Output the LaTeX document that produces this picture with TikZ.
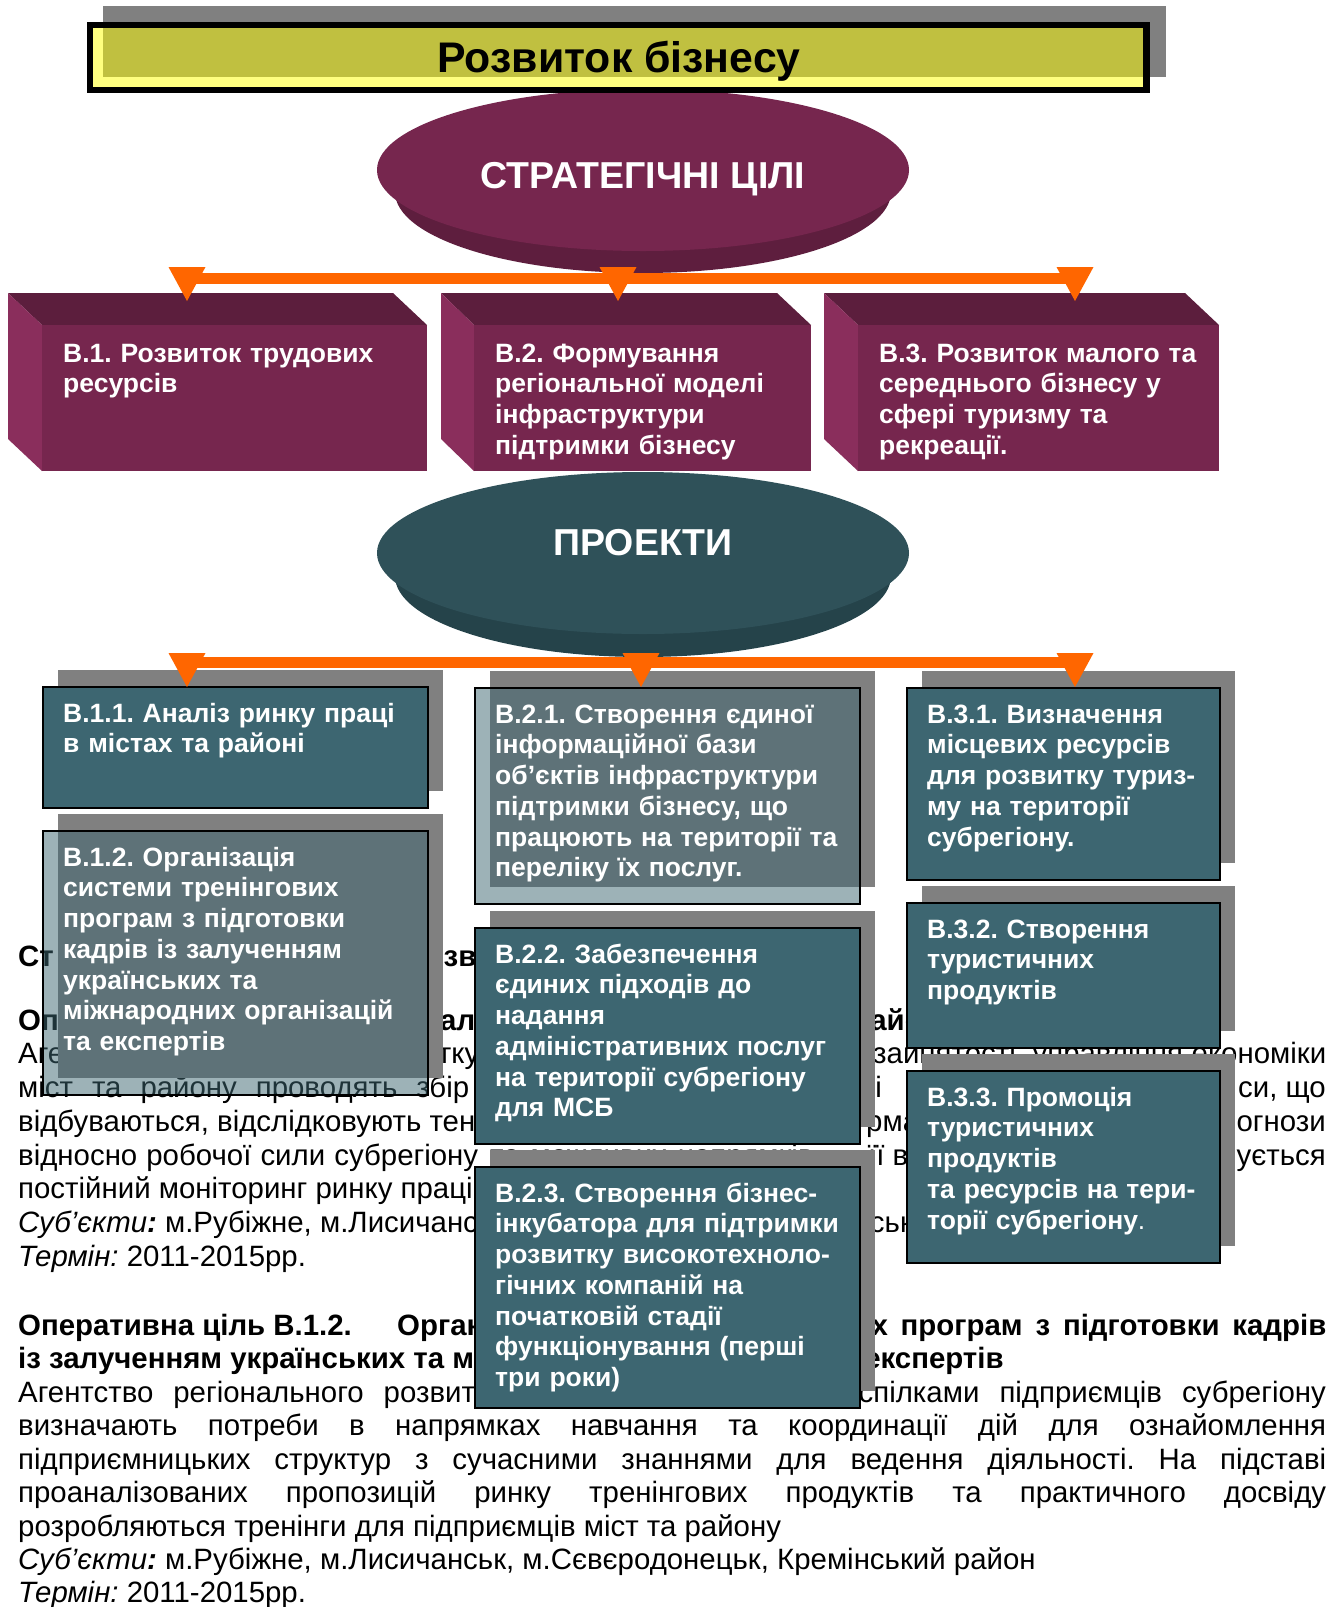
\documentclass[tikz,border=0pt]{standalone}
\usepackage{fontspec}
\setmainfont{Liberation Sans}
\usetikzlibrary{calc,shapes.geometric}
\frenchspacing
\definecolor{cOlive}{RGB}{192,192,64}
\definecolor{cYel}{RGB}{255,255,128}
\definecolor{cGray}{RGB}{128,128,128}
\definecolor{cPlum}{RGB}{118,38,78}
\definecolor{cPlumTop}{RGB}{92,30,61}
\definecolor{cPlumSide}{RGB}{138,46,92}
\definecolor{cPlumBand}{RGB}{94,30,62}
\definecolor{cSlate}{RGB}{47,81,89}
\definecolor{cSlateBand}{RGB}{37,67,74}
\definecolor{cTeal}{RGB}{61,102,113}
\definecolor{cOrange}{RGB}{255,102,0}
\newcommand\subjlabel{\textit{Суб’єкти}\textbf{\textit{:}} }
\newcommand\downtri[1]{\fill[cOrange] ($(#1)+(-18.5,-34)$) -- ($(#1)+(18.5,-34)$) -- (#1) -- cycle;}
\begin{document}
\begin{tikzpicture}[x=1pt,y=-1pt,
  bodyt/.style={anchor=base west,inner sep=0pt,font=\fontsize{29.4}{33.8}\selectfont},
  headt/.style={bodyt,font=\fontsize{29.4}{33.8}\selectfont\bfseries},
  btext/.style={anchor=base west,inner sep=0pt,text=white,align=left,text width=400pt,font=\fontsize{26.5}{30.75}\selectfont\bfseries},
  etext/.style={anchor=base,inner sep=0pt,text=white,font=\fontsize{37.5}{42}\selectfont\bfseries},
  pbox/.style={fill=cTeal,draw=black,line width=2pt,inner sep=0pt,anchor=north west},
  tbox/.style={pbox,fill opacity=0.5,draw opacity=1},
  bar/.style={cOrange,line width=11pt},
  front/.style={fill=cPlum,inner sep=0pt,anchor=north west,minimum height=146pt}]
\useasboundingbox (0,0) rectangle (1342,1607);
\fill[white] (0,0) rectangle (1342,1607);

% ---------------- background document text ----------------
\node[headt] (h0a) at (18,966) {Ст};
\node[headt] (h0b) at (407,966) {Розвиток трудових ресурсів};
\node[headt] (h1a) at (18,1030) {Оперативна ціль В.1.1.};
\node[headt] (h1b) at (401,1030) {Аналіз ринку праці в містах та районі};
\node[bodyt] (t1a) at (18,1063) {Агентство регіонального розвитку};
\node[bodyt] (t1b) at (873,1063) {\makebox[453pt][s]{зайнятості, управління економіки}};
\node[bodyt] (t2a) at (18,1097) {\makebox[451pt][s]{міст та району проводять збір}};
\node[bodyt] (t2b) at (858,1097) {ді};
\node[bodyt,anchor=base east] (t2c) at (1326,1097) {си, що};
\node[bodyt] (t3a) at (18,1131) {відбуваються, відслідковують тенденції};
\node[bodyt] (t3b) at (866,1131) {рма};
\node[bodyt,anchor=base east] (t3c) at (1326,1131) {огнози};
\node[bodyt] (t4a) at (18,1165) {\makebox[460pt][s]{відносно робочої сили субрегіону}};
\node[bodyt] (t4b) at (490,1165) {\spaceskip=11pt\relax та можливих напрямків};
\node[bodyt] (t4c) at (868,1165) {її в};
\node[bodyt,anchor=base east] (t4d) at (1326,1165) {ується};
\node[bodyt] (t5a) at (18,1198) {постійний моніторинг ринку праці};
\node[bodyt] (t6a) at (18,1232) {\subjlabel м.Рубіжне, м.Лисичанськ, м.Сєвєродонецьк, Кремінський район};
\node[bodyt] (t7a) at (18,1266) {\textit{Термін:} 2011-2015рр.};
\node[headt] (t8a) at (18,1335) {Оперативна ціль В.1.2.};
\node[headt] (t8b) at (397,1335) {\makebox[929pt][s]{Організація системи тренінгових програм з підготовки кадрів}};
\node[headt] (t9a) at (18,1368) {із залученням українських та міжнародних організацій та експертів};
\node[bodyt] (t10a) at (18,1402) {\spaceskip=20pt\relax Агентство регіонального розвитку};
\node[bodyt,anchor=base east] (t10b) at (1326,1402) {\spaceskip=20pt\relax спілками підприємців субрегіону};
\node[bodyt] (t11) at (18,1435) {\makebox[1308pt][s]{визначають потреби в напрямках навчання та координації дій для ознайомлення}};
\node[bodyt] (t12) at (18,1469) {\makebox[1308pt][s]{підприємницьких структур з сучасними знаннями для ведення діяльності. На підставі}};
\node[bodyt] (t13) at (18,1502) {\makebox[1308pt][s]{проаналізованих пропозицій ринку тренінгових продуктів та практичного досвіду}};
\node[bodyt] (t14) at (18,1536) {розробляються тренінги для підприємців міст та району};
\node[bodyt] (t15) at (18,1569) {\subjlabel м.Рубіжне, м.Лисичанськ, м.Сєвєродонецьк, Кремінський район};
\node[bodyt] (t16) at (18,1602) {\textit{Термін:} 2011-2015рр.};

% ---------------- title ----------------
\fill[cGray] (103,6) rectangle (1166,77);
% ellipse 1 (strategic goals)
\fill[cPlumBand] (377,170) -- (909,170) -- (891,192) -- (395,192) -- cycle;
\fill[cPlumBand] (643,192) ellipse [x radius=248pt, y radius=81pt];
\node[ellipse,fill=cPlum,minimum width=532pt,minimum height=162pt,inner sep=0pt] (SG) at (643,170) {};
\node[etext] (SGt) at (643,188) {СТРАТЕГІЧНІ ЦІЛІ};
% title box
\fill[black] (87,22) rectangle (1150,93);
\fill[cYel] (93,28) rectangle (1143,87);
\fill[cOlive] (103,28) rectangle (1143,77);
\node[anchor=base,inner sep=0pt,font=\fontsize{42.8}{48}\selectfont\bfseries] (title) at (619,72) {Розвиток бізнесу};

% ---------------- strategic goal cubes ----------------
\fill[cPlumTop] (8,293) -- (393,293) -- (427,325) -- (42,325) -- cycle;
\fill[cPlumSide] (8,293) -- (42,325) -- (42,471) -- (8,439) -- cycle;
\node[front,minimum width=385pt] (B1) at (42,325) {};
\node[btext] (B1t) at (63,362) {В.1. Розвиток трудових\\ресурсів};

\fill[cPlumTop] (441,293) -- (777,293) -- (811,325) -- (474,325) -- cycle;
\fill[cPlumSide] (441,293) -- (474,325) -- (474,471) -- (441,439) -- cycle;
\node[front,minimum width=337pt] (B2) at (474,325) {};
\node[btext] (B2t) at (495,362) {В.2. Формування\\регіональної моделі\\інфраструктури\\підтримки бізнесу};

\fill[cPlumTop] (824,293) -- (1185,293) -- (1219,325) -- (858,325) -- cycle;
\fill[cPlumSide] (824,293) -- (858,325) -- (858,471) -- (824,439) -- cycle;
\node[front,minimum width=361pt] (B3) at (858,325) {};
\node[btext] (B3t) at (879,362) {В.3. Розвиток малого та\\середнього бізнесу у\\сфері туризму та\\рекреації.};

% ---------------- ellipse 2 (projects) ----------------
\fill[cSlateBand] (377,553) -- (909,553) -- (891,576) -- (395,576) -- cycle;
\fill[cSlateBand] (643,576) ellipse [x radius=248pt, y radius=81pt];
\node[ellipse,fill=cSlate,minimum width=532pt,minimum height=162pt,inner sep=0pt] (PR) at (643,553) {};
\node[etext] (PRt) at (643,555) {ПРОЕКТИ};

% connector 1
\coordinate (a1) at (187,278.5);
\coordinate (a3) at (1075,278.5);
\coordinate (k1) at (187,301);
\coordinate (k2) at (618,301);
\coordinate (k3) at (1075,301);
\draw[bar] (a1) -- (a3);
\downtri{k1}\downtri{k2}\downtri{k3}

% ---------------- project boxes ----------------
\fill[cGray] (58,670) rectangle (443,791);
\node[pbox,minimum width=385pt,minimum height=121pt] (P11) at (42,686) {};
\node[btext] (P11t) at (63,722) {В.1.1. Аналіз ринку праці\\в містах та районі};

\fill[cGray] (58,814) rectangle (443,1078);
\node[tbox,minimum width=385pt,minimum height=264pt] (P12) at (42,830) {};
\node[btext] (P12t) at (63,866) {В.1.2. Організація\\системи тренінгових\\програм з підготовки\\кадрів із залученням\\українських та\\міжнародних організацій\\та експертів};

\fill[cGray] (490,671) rectangle (875,887);
\node[tbox,minimum width=385pt,minimum height=216pt] (P21) at (474,687) {};
\node[btext] (P21t) at (495,723) {В.2.1. Створення єдиної\\інформаційної бази\\об’єктів інфраструктури\\підтримки бізнесу, що\\працюють на території та\\переліку їх послуг.};

\fill[cGray] (490,911) rectangle (875,1127);
\node[pbox,minimum width=385pt,minimum height=216pt] (P22) at (474,927) {};
\node[btext] (P22t) at (495,963) {В.2.2. Забезпечення\\єдиних підходів до\\надання\\адміністративних послуг\\на території субрегіону\\для МСБ};

\fill[cGray] (490,1150) rectangle (875,1391);
\node[pbox,minimum width=385pt,minimum height=241pt] (P23) at (474,1166) {};
\node[btext] (P23t) at (495,1202) {В.2.3. Створення бізнес-\\інкубатора для підтримки\\розвитку високотехноло-\\гічних компаній на\\початковій стадії\\функціонування (перші\\три роки)};

\fill[cGray] (922,671) rectangle (1235,863);
\node[pbox,minimum width=313pt,minimum height=192pt] (P31) at (906,687) {};
\node[btext] (P31t) at (927,723) {В.3.1. Визначення\\місцевих ресурсів\\для розвитку туриз-\\му на території\\субрегіону.};

\fill[cGray] (922,886) rectangle (1235,1031);
\node[pbox,minimum width=313pt,minimum height=145pt] (P32) at (906,902) {};
\node[btext] (P32t) at (927,938) {В.3.2. Створення\\туристичних\\продуктів};

\fill[cGray] (922,1054) rectangle (1235,1246);
\node[pbox,minimum width=313pt,minimum height=192pt] (P33) at (906,1070) {};
\node[btext] (P33t) at (927,1106) {В.3.3. Промоція\\туристичних\\продуктів\\та ресурсів на тери-\\торії субрегіону{\mdseries.}};

% connector 2
\coordinate (c1) at (187,662.5);
\coordinate (c3) at (1075,662.5);
\coordinate (m1) at (187,687);
\coordinate (m2) at (641,687);
\coordinate (m3) at (1075,687);
\draw[bar] (c1) -- (c3);
\downtri{m1}\downtri{m2}\downtri{m3}
\end{tikzpicture}
\end{document}
